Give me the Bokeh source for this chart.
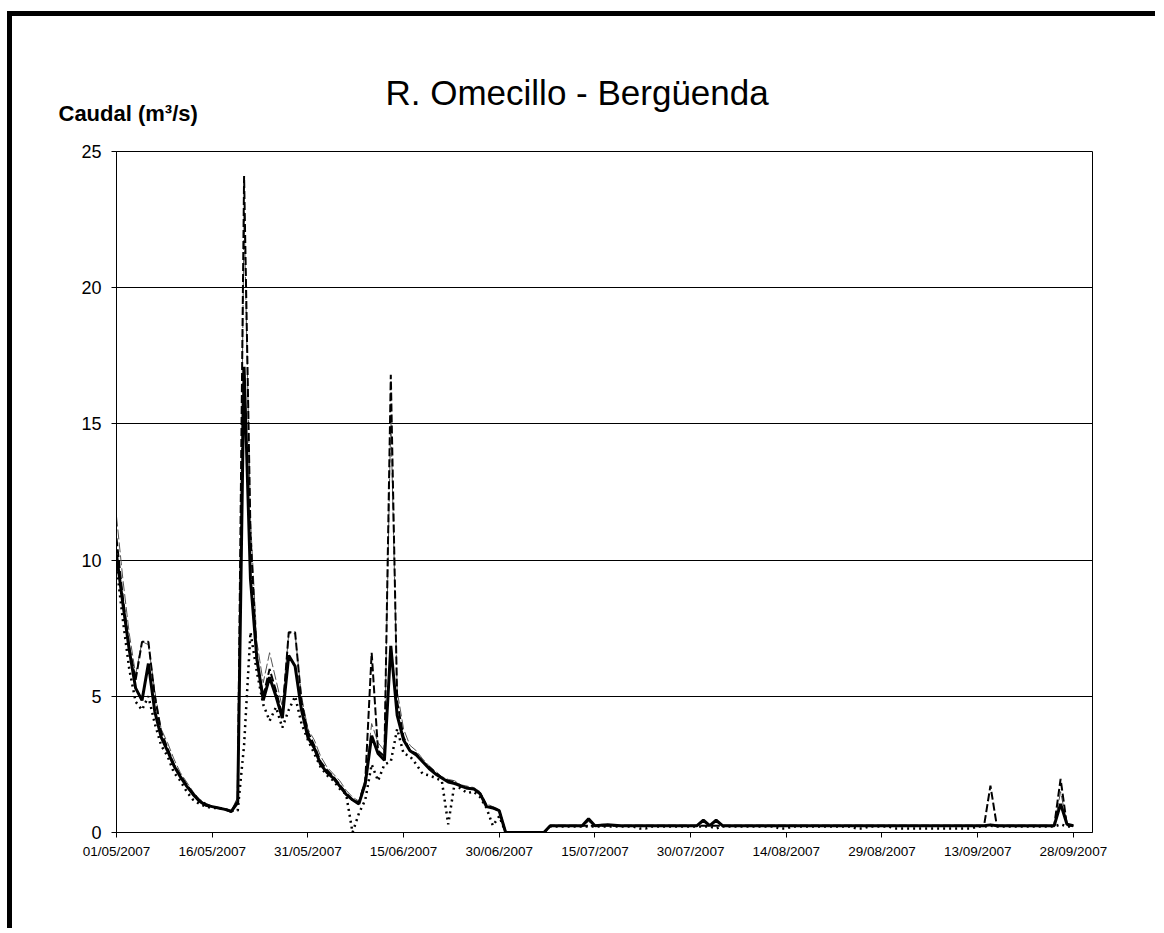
import pandas as pd
from bokeh.plotting import figure
from bokeh.models import Range1d, FixedTicker, DatetimeTickFormatter, Title, Label, ColumnDataSource
from bokeh.embed import file_html
from bokeh.resources import INLINE

# ---------------- data ----------------
start_date = "2007-05-01"
end_date = "2007-10-01"
x_tick_labels = ["01/05/2007", "16/05/2007", "31/05/2007", "15/06/2007", "30/06/2007",
                 "15/07/2007", "30/07/2007", "14/08/2007", "29/08/2007", "13/09/2007",
                 "28/09/2007"]
y_ticks = [0, 5, 10, 15, 20, 25]

# thick solid
serie_a = ([10.2, 8.4, 6.7, 5.3, 4.85, 6.2, 4.45, 3.5, 3.0, 2.45,
            2.05, 1.7, 1.4, 1.15, 1.0, 0.95, 0.9, 0.85, 0.78, 1.1,
            17.1, 9.3, 6.4, 4.85, 5.7, 5.0, 4.2, 6.5, 6.1, 4.5,
            3.5, 3.1, 2.5, 2.2, 2.0, 1.7, 1.4, 1.2, 1.05, 1.8,
            3.55, 2.9, 2.65, 6.85, 4.3, 3.4, 3.0, 2.85, 2.6, 2.35,
            2.15, 2.0, 1.85, 1.8, 1.7, 1.62, 1.6, 1.42, 0.95, 0.9,
            0.8, 0.0, 0.0, 0.0, 0.0, 0.0, 0.0, 0.0, 0.25, 0.25,
            0.25, 0.25, 0.25, 0.25, 0.5, 0.25, 0.27, 0.28, 0.27, 0.25,
            0.25, 0.25, 0.25, 0.25, 0.25, 0.25, 0.25, 0.25, 0.25, 0.25,
            0.25, 0.25, 0.45, 0.25, 0.45, 0.25, 0.25, 0.25, 0.25, 0.25,
            0.25, 0.25, 0.25, 0.25, 0.25, 0.25, 0.25, 0.25, 0.25, 0.25,
            0.25, 0.25, 0.25, 0.25, 0.25, 0.25, 0.25, 0.25, 0.25, 0.25,
            0.25, 0.25, 0.25, 0.25, 0.25, 0.25, 0.25, 0.25, 0.25, 0.25,
            0.25, 0.25, 0.25, 0.25, 0.25, 0.25, 0.25, 0.28, 0.25, 0.25,
            0.25, 0.25, 0.25, 0.25, 0.25, 0.25, 0.25, 0.25, 1.05, 0.3,
            0.25])

# thick dashed
serie_b = ([10.8, 8.6, 6.8, 5.6, 7.0, 7.0, 5.0, 3.7, 3.1, 2.5,
            2.1, 1.75, 1.45, 1.2, 1.05, 0.95, 0.9, 0.85, 0.75, 1.2,
            24.1, 11.0, 6.3, 5.0, 6.0, 5.2, 4.3, 7.35, 7.35, 4.8,
            3.7, 3.2, 2.6, 2.3, 2.05, 1.75, 1.45, 1.2, 1.1, 1.9,
            6.6, 3.0, 2.8, 16.8, 4.8, 3.5, 3.0, 2.9, 2.6, 2.4,
            2.2, 2.0, 1.9, 1.85, 1.7, 1.65, 1.6, 1.45, 1.0, 0.9,
            0.8, 0.0, 0.0, 0.0, 0.0, 0.0, 0.0, 0.0, 0.25, 0.25,
            0.25, 0.25, 0.25, 0.25, 0.25, 0.25, 0.25, 0.25, 0.25, 0.25,
            0.25, 0.25, 0.25, 0.25, 0.25, 0.25, 0.25, 0.25, 0.25, 0.25,
            0.25, 0.25, 0.25, 0.25, 0.25, 0.25, 0.25, 0.25, 0.25, 0.25,
            0.25, 0.25, 0.25, 0.25, 0.25, 0.25, 0.25, 0.25, 0.25, 0.25,
            0.25, 0.25, 0.25, 0.25, 0.25, 0.25, 0.25, 0.25, 0.25, 0.25,
            0.25, 0.25, 0.25, 0.25, 0.25, 0.25, 0.25, 0.25, 0.25, 0.25,
            0.25, 0.25, 0.25, 0.25, 0.25, 0.25, 0.25, 1.72, 0.25, 0.25,
            0.25, 0.25, 0.25, 0.25, 0.25, 0.25, 0.25, 0.25, 1.97, 0.25,
            0.25])

# thin dashed grey
serie_c = ([11.6, 9.3, 7.3, 5.8, 7.0, 6.9, 5.2, 3.8, 3.3, 2.7,
            2.2, 1.85, 1.5, 1.2, 1.05, 0.95, 0.9, 0.85, 0.8, 1.3,
            22.8, 11.5, 7.0, 5.5, 6.6, 5.6, 4.6, 7.3, 7.3, 5.0,
            3.8, 3.4, 2.8, 2.4, 2.15, 1.9, 1.55, 1.3, 1.15, 2.0,
            4.0, 3.3, 3.0, 15.3, 5.2, 3.8, 3.2, 3.0, 2.7, 2.45,
            2.25, 2.05, 1.95, 1.9, 1.75, 1.7, 1.65, 1.5, 1.05, 0.95,
            0.85, 0.0, 0.0, 0.0, 0.0, 0.0, 0.0, 0.0, 0.25, 0.25,
            0.25, 0.25, 0.25, 0.25, 0.4, 0.25, 0.3, 0.3, 0.25, 0.25,
            0.25, 0.25, 0.25, 0.25, 0.25, 0.25, 0.25, 0.25, 0.25, 0.25,
            0.25, 0.25, 0.45, 0.25, 0.45, 0.25, 0.25, 0.25, 0.25, 0.25,
            0.25, 0.25, 0.25, 0.25, 0.25, 0.25, 0.25, 0.25, 0.25, 0.25,
            0.25, 0.25, 0.25, 0.25, 0.25, 0.25, 0.25, 0.25, 0.25, 0.25,
            0.25, 0.25, 0.25, 0.25, 0.25, 0.25, 0.25, 0.25, 0.25, 0.25,
            0.25, 0.25, 0.25, 0.25, 0.25, 0.25, 0.25, 0.3, 0.25, 0.25,
            0.25, 0.25, 0.25, 0.25, 0.25, 0.25, 0.25, 0.25, 1.5, 0.3,
            0.25])

# dotted
serie_d = ([9.8, 7.8, 6.0, 4.8, 4.5, 5.0, 4.0, 3.2, 2.8, 2.2,
            1.9, 1.5, 1.2, 1.05, 0.95, 0.9, 0.9, 0.85, 0.8, 0.8,
            3.2, 7.35, 5.9, 4.7, 4.1, 4.6, 3.85, 4.5, 5.0, 4.0,
            3.4, 2.9, 2.4, 2.1, 1.9, 1.6, 1.4, 0.0, 0.7, 1.2,
            2.5, 1.9, 2.5, 2.6, 3.8, 2.9, 2.8, 2.5, 2.15, 2.1,
            2.0, 1.9, 0.3, 1.8, 1.6, 1.45, 1.5, 1.3, 0.9, 0.25,
            0.6, 0.0, 0.0, 0.0, 0.0, 0.0, 0.0, 0.0, 0.22, 0.22,
            0.22, 0.22, 0.22, 0.22, 0.22, 0.22, 0.22, 0.22, 0.22, 0.22,
            0.22, 0.22, 0.15, 0.15, 0.22, 0.22, 0.22, 0.22, 0.22, 0.22,
            0.22, 0.22, 0.22, 0.22, 0.15, 0.22, 0.22, 0.22, 0.22, 0.22,
            0.22, 0.22, 0.22, 0.22, 0.15, 0.15, 0.22, 0.22, 0.22, 0.22,
            0.22, 0.22, 0.22, 0.22, 0.22, 0.22, 0.15, 0.15, 0.22, 0.22,
            0.22, 0.22, 0.15, 0.15, 0.15, 0.15, 0.15, 0.15, 0.15, 0.15,
            0.15, 0.15, 0.15, 0.15, 0.15, 0.22, 0.22, 0.25, 0.22, 0.22,
            0.22, 0.22, 0.22, 0.22, 0.22, 0.22, 0.22, 0.22, 0.3, 0.22,
            0.22])

title_text = "R. Omecillo - Bergüenda"
y_label_text = "Caudal (m³/s)"

# ---------------- figure ----------------
dates = pd.date_range(start_date, periods=len(serie_a))
src = ColumnDataSource(dict(x=dates, a=serie_a, b=serie_b, c=serie_c, d=serie_d))

FONT = "Liberation Sans"
start_ms = float(pd.Timestamp(start_date).value // 10**6)

p = figure(width=1148, height=917, x_axis_type="datetime",
           output_backend="svg", toolbar_location=None, title=None,
           x_range=Range1d(pd.Timestamp(start_date), pd.Timestamp(end_date)),
           y_range=Range1d(0, 25),
           min_border_left=104, min_border_right=68,
           min_border_top=135, min_border_bottom=101,
           background_fill_color="white", border_fill_color="white",
           outline_line_color="black", outline_line_width=1)

p.styles = {"border-left": "5px solid black", "border-top": "5px solid black",
            "margin-top": "11px", "margin-left": "7px"}

p.line("x", "c", source=src, color="#555555", line_width=1, line_dash="10 3")
p.line("x", "d", source=src, color="black", line_width=2.5, line_dash="2 4")
p.line("x", "b", source=src, color="black", line_width=2, line_dash="8 3")
p.line("x", "a", source=src, color="black", line_width=3)

tick_ms = [int(pd.to_datetime(t, format="%d/%m/%Y").value // 10**6) for t in x_tick_labels]
p.xaxis.ticker = FixedTicker(ticks=tick_ms)
fmt = "%d/%m/%Y"
p.xaxis.formatter = DatetimeTickFormatter(days=fmt, months=fmt, years=fmt, hours=fmt,
                                          hourmin=fmt, minutes=fmt, minsec=fmt,
                                          seconds=fmt, milliseconds=fmt, microseconds=fmt)
p.yaxis.ticker = FixedTicker(ticks=y_ticks)

for ax in (p.xaxis[0], p.yaxis[0]):
    ax.axis_line_color = "black"
    ax.major_tick_line_color = "black"
    ax.major_tick_out = 5
    ax.major_tick_in = 0
    ax.minor_tick_line_color = None
    ax.major_label_text_font = FONT
    ax.major_label_text_color = "black"
p.xaxis.major_label_text_font_size = "13.5px"
p.yaxis.major_label_text_font_size = "18px"
p.xaxis.major_label_standoff = 6
p.yaxis.major_label_standoff = 10

p.xgrid.grid_line_color = None
p.ygrid.grid_line_color = "black"
p.ygrid.grid_line_width = 1
p.ygrid.ticker = FixedTicker(ticks=y_ticks)

p.add_layout(Title(text=title_text, text_font=FONT, text_font_style="normal",
                   text_color="black", text_font_size="35px", align="left",
                   offset=269, standoff=80), "above")

# axis caption: lives in a side panel (so it is not clipped to the frame),
# positioned from the top-left corner of the data area
p.add_layout(Label(x=start_ms, y=float(y_ticks[-1]), x_units="data", y_units="data",
                   x_offset=-58, y_offset=38,
                   text=y_label_text, text_font=FONT, text_font_style="bold",
                   text_font_size="22px", text_color="black", text_baseline="middle",
                   text_align="left"), "below")

open("out.html", "w").write(file_html(p, INLINE))
